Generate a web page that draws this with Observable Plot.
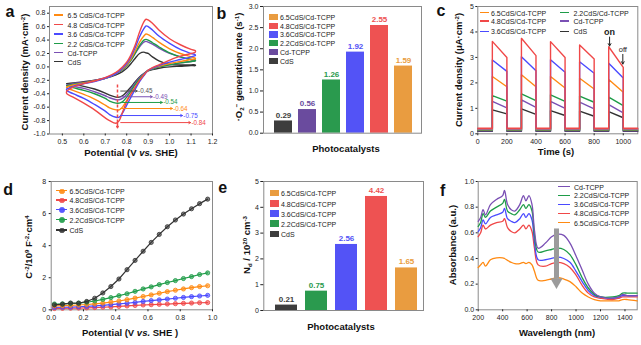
<!DOCTYPE html>
<html><head><meta charset="utf-8">
<script src="https://cdn.jsdelivr.net/npm/d3@7"></script>
<script src="https://cdn.jsdelivr.net/npm/@observablehq/plot@0.6"></script>
<style>
body{margin:0;background:#fff;}
#fig{position:relative;width:641px;height:345px;overflow:hidden;font-family:"Liberation Sans",Arial,sans-serif;background:#fff;color:#111}
.t{position:absolute;font-weight:bold;font-size:9.5px;white-space:nowrap;line-height:1;transform:translate(-50%,-50%)}
.t.y{transform:translate(-50%,-50%) rotate(-90deg)}
.let{position:absolute;font-weight:bold;font-size:16px;line-height:1}
.lg{position:absolute;font-size:7px;white-space:nowrap;line-height:1;transform:translateY(-50%);color:#222}
.sw{position:absolute}
sup{font-size:65%;line-height:0;position:relative;vertical-align:baseline;top:-0.5em}
sub{font-size:65%;line-height:0;position:relative;vertical-align:baseline;top:0.3em}
</style></head>
<body><div id="fig"></div>
<script>
// ---------- DATA ----------
// panel a: cyclic voltammetry
const aForwardV = [0.52,0.55,0.6,0.65,0.7,0.75,0.78,0.8,0.82,0.84,0.86,0.88,0.89,0.9,0.92,0.95,1.0,1.05,1.1,1.12];
const aReverseV = [1.12,1.1,1.05,1.0,0.95,0.92,0.9,0.88,0.86,0.84,0.82,0.8,0.78,0.765,0.75,0.72,0.7,0.65,0.6,0.55,0.52];
const aCdS_f   = [-0.25,-0.24,-0.22,-0.2,-0.17,-0.12,-0.07,-0.02,0.05,0.13,0.2,0.22,0.21,0.2,0.15,0.09,0.04,0.03,0.03,0.03];
const aCdS_r   = [0.02,0.02,0.01,0.0,-0.02,-0.04,-0.06,-0.1,-0.15,-0.22,-0.3,-0.37,-0.43,-0.45,-0.45,-0.42,-0.39,-0.33,-0.29,-0.26,-0.25];
const aTCPP_f  = [-0.27,-0.25,-0.23,-0.2,-0.16,-0.1,-0.04,0.02,0.1,0.2,0.3,0.37,0.38,0.37,0.34,0.28,0.2,0.15,0.11,0.1];
const aTCPP_r  = [0.09,0.08,0.06,0.03,0.0,-0.03,-0.05,-0.1,-0.16,-0.24,-0.33,-0.41,-0.47,-0.49,-0.49,-0.46,-0.43,-0.37,-0.32,-0.29,-0.27];
const a22_f    = [-0.28,-0.26,-0.24,-0.21,-0.17,-0.1,-0.04,0.02,0.1,0.21,0.32,0.4,0.41,0.4,0.36,0.3,0.21,0.15,0.11,0.1];
const a22_r    = [0.09,0.08,0.06,0.03,0.0,-0.03,-0.05,-0.11,-0.18,-0.26,-0.36,-0.45,-0.52,-0.54,-0.54,-0.51,-0.47,-0.4,-0.35,-0.31,-0.28];
const a65_f    = [-0.3,-0.27,-0.24,-0.21,-0.17,-0.1,-0.03,0.03,0.12,0.24,0.37,0.46,0.49,0.48,0.44,0.37,0.27,0.2,0.15,0.13];
const a65_r    = [0.12,0.11,0.08,0.05,0.01,-0.02,-0.05,-0.12,-0.2,-0.3,-0.4,-0.5,-0.6,-0.64,-0.64,-0.61,-0.57,-0.48,-0.41,-0.35,-0.31];
const a36_f    = [-0.33,-0.29,-0.25,-0.22,-0.17,-0.1,-0.02,0.05,0.15,0.29,0.45,0.57,0.61,0.6,0.55,0.46,0.35,0.26,0.2,0.18];
const a36_r    = [0.17,0.15,0.11,0.07,0.02,-0.02,-0.05,-0.13,-0.22,-0.33,-0.45,-0.57,-0.69,-0.75,-0.75,-0.71,-0.66,-0.56,-0.47,-0.4,-0.35];
const a48_f    = [-0.36,-0.3,-0.25,-0.21,-0.16,-0.08,0.0,0.07,0.18,0.33,0.52,0.67,0.71,0.7,0.65,0.55,0.42,0.33,0.26,0.24];
const a48_r    = [0.22,0.2,0.16,0.1,0.03,-0.01,-0.05,-0.12,-0.2,-0.3,-0.4,-0.52,-0.68,-0.8,-0.84,-0.8,-0.76,-0.64,-0.54,-0.45,-0.4];
const aPeakValues = [-0.45,-0.49,-0.54,-0.64,-0.75,-0.84];
const aXTicks = [0.5,0.6,0.7,0.8,0.9,1.0,1.1,1.2];
const aYTicks = [-1.0,-0.8,-0.6,-0.4,-0.2,0.0,0.2,0.4,0.6,0.8];
const aLegend = ["6.5 CdS/Cd-TCPP","4.8 CdS/Cd-TCPP","3.6 CdS/Cd-TCPP","2.2 CdS/Cd-TCPP","Cd-TCPP","CdS"];

// panel b: ·O2- generation rate
const bCats  = ["CdS","Cd-TCPP","2.2CdS/Cd-TCPP","3.6CdS/Cd-TCPP","4.8CdS/Cd-TCPP","6.5CdS/Cd-TCPP"];
const bRates = [0.29,0.56,1.26,1.92,2.55,1.59];
const bYTicks = [0,0.5,1.0,1.5,2.0,2.5,3.0];

// panel c: transient photocurrent
const cOn  = [100,300,500,700,900];
const cOff = [200,400,600,800,1000];
const c65Peak=[2.25,2.32,2.25,2.18,2.13], c65End=[1.85,1.85,1.8,1.76,1.63];
const c48Peak=[3.63,3.75,3.62,3.49,3.42], c48End=[3.0,3.07,3.0,2.94,2.61];
const c36Peak=[2.9,3.03,2.91,2.83,2.77],  c36End=[2.45,2.48,2.42,2.38,2.19];
const c22Peak=[1.5,1.57,1.53,1.48,1.44],  c22End=[1.28,1.3,1.27,1.24,1.11];
const cTPeak =[1.27,1.33,1.27,1.24,1.15], cTEnd =[1.02,1.04,1.0,0.98,0.82];
const cCPeak =[0.94,0.98,0.91,0.89,0.87], cCEnd =[0.78,0.76,0.72,0.69,0.63];
const cBase  = [0.17,0.22,0.2,0.15,0.12,0.1]; // 6.5, 4.8, 3.6, 2.2, Cd-TCPP, CdS
const cXTicks = [0,200,400,600,800,1000];
const cYTicks = [0,1,2,3,4,5];

// panel d: Mott-Schottky
const dV   = [0.02,0.07,0.12,0.17,0.22,0.27,0.32,0.37,0.42,0.47,0.52,0.57,0.62,0.67,0.72,0.77,0.82,0.87,0.92,0.97];
const dCdS = [0.31,0.35,0.42,0.41,0.52,0.72,1.05,1.45,1.92,2.5,3.08,3.65,4.2,4.7,5.18,5.6,5.97,6.3,6.62,6.9];
const d22  = [0.36,0.37,0.4,0.42,0.47,0.55,0.65,0.76,0.88,1.0,1.15,1.3,1.43,1.57,1.7,1.82,1.95,2.07,2.2,2.3];
const d65  = [0.25,0.26,0.28,0.3,0.33,0.37,0.42,0.48,0.55,0.63,0.73,0.83,0.93,1.03,1.13,1.22,1.3,1.38,1.45,1.5];
const d36  = [0.15,0.16,0.17,0.19,0.21,0.24,0.28,0.32,0.37,0.41,0.46,0.52,0.57,0.62,0.67,0.72,0.77,0.82,0.86,0.9];
const d48  = [0.08,0.09,0.1,0.11,0.12,0.14,0.16,0.18,0.21,0.24,0.27,0.3,0.32,0.34,0.36,0.38,0.4,0.42,0.44,0.45];
const dXTicks = [0,0.2,0.4,0.6,0.8,1.0];
const dYTicks = [0,2,4,6,8];
const dLegend = ["6.5CdS/Cd-TCPP","4.8CdS/Cd-TCPP","3.6CdS/Cd-TCPP","2.2CdS/Cd-TCPP","CdS"];

// panel e: donor density
const eCats = ["CdS","2.2CdS/Cd-TCPP","3.6CdS/Cd-TCPP","4.8CdS/Cd-TCPP","6.5CdS/Cd-TCPP"];
const eNd   = [0.21,0.75,2.56,4.42,1.65];
const eYTicks = [0,1,2,3,4,5];

// panel f: UV-vis-NIR absorbance
const fWl   = [200,220,240,260,300,350,400,415,440,470,500,540,570,590,615,640,660,690,750,800,850,900,950,1000,1050,1100,1150,1200,1300,1350,1380,1420,1500];
const fTCPP = [0.69,0.72,0.78,0.74,0.82,0.86,0.89,0.93,0.82,0.78,0.77,0.82,0.89,0.85,0.89,0.82,0.62,0.48,0.52,0.57,0.59,0.58,0.52,0.42,0.31,0.2,0.13,0.1,0.09,0.1,0.12,0.11,0.11];
const f22   = [0.65,0.68,0.75,0.72,0.77,0.8,0.83,0.86,0.77,0.75,0.74,0.78,0.82,0.79,0.82,0.77,0.58,0.45,0.46,0.47,0.48,0.47,0.43,0.35,0.25,0.17,0.12,0.1,0.1,0.11,0.13,0.13,0.13];
const f36   = [0.61,0.64,0.7,0.67,0.72,0.74,0.76,0.79,0.71,0.69,0.68,0.71,0.75,0.72,0.75,0.7,0.53,0.39,0.39,0.4,0.41,0.4,0.37,0.3,0.22,0.15,0.11,0.1,0.09,0.1,0.11,0.11,0.11];
const f48   = [0.57,0.6,0.66,0.63,0.66,0.68,0.69,0.71,0.64,0.61,0.6,0.63,0.66,0.63,0.66,0.61,0.48,0.35,0.34,0.36,0.37,0.36,0.33,0.27,0.19,0.13,0.1,0.09,0.08,0.09,0.1,0.1,0.1];
const f65   = [0.33,0.35,0.37,0.34,0.39,0.405,0.405,0.4,0.385,0.37,0.36,0.36,0.37,0.36,0.37,0.35,0.3,0.23,0.23,0.24,0.25,0.24,0.22,0.18,0.13,0.1,0.08,0.07,0.07,0.07,0.08,0.08,0.07];
const fXTicks = [200,400,600,800,1000,1200,1400];
const fYTicks = [0,0.2,0.4,0.6,0.8,1.0];
const fLegend = ["Cd-TCPP","2.2CdS/Cd-TCPP","3.6CdS/Cd-TCPP","4.8CdS/Cd-TCPP","6.5CdS/Cd-TCPP"];

// ---------- STYLE ----------
const L = {o:"#ff8a12", r:"#f04848", b:"#4a4aff", g:"#1e9c48", p:"#7a50b4", k:"#333333"};
const B = {o:"#e99c40", r:"#ee5252", b:"#5353f6", g:"#2a9a4e", p:"#6a4b9e", k:"#3d3d3d"};
const frameC = "#8a8a8a";
const font = '"Liberation Sans", Arial, sans-serif';
const baseStyle = {fontFamily: font, fontSize: "7px", color: "#222", background: "transparent", overflow: "visible"};
const f1 = d => d.toFixed(1);
const f0 = d => String(d);
const fig = document.getElementById("fig");

function place(svg, left, top) {
  svg.style.position = "absolute"; svg.style.left = left + "px"; svg.style.top = top + "px";
  svg.style.maxWidth = "none"; fig.appendChild(svg);
}
function html(cls, x, y, inner) {
  const d = document.createElement("div"); d.className = cls;
  d.style.left = x + "px"; d.style.top = y + "px"; d.innerHTML = inner; fig.appendChild(d); return d;
}
function legend(labels, colors, kind, sx0, sx1, tx, ys) {
  labels.forEach((lab, i) => {
    const y = ys[i];
    const sw = document.createElement("div"); sw.className = "sw";
    if (kind === "rect") {
      Object.assign(sw.style, {left: sx0+"px", top: (y-3.2)+"px", width: (sx1-sx0)+"px", height: "6.4px", background: colors[i]});
    } else {
      Object.assign(sw.style, {left: sx0+"px", top: (y-0.75)+"px", width: (sx1-sx0)+"px", height: "1.5px", background: colors[i]});
    }
    fig.appendChild(sw);
    if (kind === "dot") {
      const c = document.createElement("div"); c.className = "sw";
      const cx = (sx0+sx1)/2;
      Object.assign(c.style, {left: (cx-2.2)+"px", top: (y-2.2)+"px", width: "3.4px", height: "3.4px", borderRadius: "50%", background: colors[i], border: "0.6px solid " + colors[i], opacity: 0.9});
      fig.appendChild(c);
    }
    html("lg", tx, y, lab);
  });
}
function rowsOf(xs, ys) { return xs.map((x, i) => ({x, y: ys[i]})); }

// ---------- PANEL a ----------
const aSeries = [
  {f:aCdS_f, r:aCdS_r, c:L.k}, {f:aTCPP_f, r:aTCPP_r, c:L.p}, {f:a22_f, r:a22_r, c:L.g},
  {f:a65_f, r:a65_r, c:L.o}, {f:a36_f, r:a36_r, c:L.b}, {f:a48_f, r:a48_r, c:L.r}
];
const aArrowY   = [-0.36,-0.445,-0.53,-0.62,-0.725,-0.83];
const aArrowEnd = [0.849,0.919,0.966,1.013,1.06,1.098];
const aArrowC   = ["#555", L.p, L.g, L.o, L.b, L.r];
const aPlot = Plot.plot({
  width: 215, height: 170, marginLeft: 49, marginRight: 3, marginTop: 6, marginBottom: 36.5,
  x: {domain: [0.44, 1.2]}, y: {domain: [-1.0, 0.9]},
  style: baseStyle,
  marks: [
    Plot.frame({stroke: frameC}),
    Plot.axisX({ticks: aXTicks, tickFormat: f1, tickSize: 2, tickPadding: 3, label: null}),
    Plot.axisY({ticks: aYTicks, tickFormat: f1, tickSize: 2, tickPadding: 2, label: null}),
    ...aSeries.map(s => Plot.line(
      [...rowsOf(aForwardV, s.f), ...rowsOf(aReverseV, s.r), {x: aForwardV[0], y: s.f[0]}],
      {x: "x", y: "y", stroke: s.c, strokeWidth: 1.4, curve: "catmull-rom"})),
    Plot.ruleX([{x: 0.757, y1: -0.27, y2: -0.86}], {x: "x", y1: "y1", y2: "y2", stroke: L.r, strokeWidth: 1.5, strokeDasharray: "3,2"}),
    Plot.arrow([{x: 0.757, y1: -0.84, y2: -0.905}], {x1: "x", x2: "x", y1: "y1", y2: "y2", stroke: L.r, strokeWidth: 1.5, headLength: 5}),
    ...aPeakValues.map((v, i) => Plot.arrow([{x1: 0.772, x2: aArrowEnd[i], y: aArrowY[i]}],
      {x1: "x1", x2: "x2", y1: "y", y2: "y", stroke: aArrowC[i], strokeWidth: 1, headLength: 3})),
    ...aPeakValues.map((v, i) => Plot.text([{x: aArrowEnd[i] + 0.004, y: aArrowY[i], t: v.toFixed(2)}],
      {x: "x", y: "y", text: "t", fill: aArrowC[i], textAnchor: "start", fontSize: 6.3}))
  ]
});
place(aPlot, 0, 0);
html("let", 5.5, 3.5, "a");
html("t y", 24.5, 72, "Current density (mA·cm<sup>-2</sup>)");
html("t", 131, 153, "Potential (V <i>vs.</i> SHE)");
legend(aLegend, [L.o, L.r, L.b, L.g, L.p, L.k], "line", 54, 63, 67.5, [15, 24.5, 34, 43.5, 52.7, 61.7]);

// ---------- PANEL b ----------
const bColors = [B.k, B.p, B.g, B.b, B.r, B.o];
const bData = bCats.map((c, i) => ({cat: c, v: bRates[i]}));
const bPlot = Plot.plot({
  width: 215, height: 170, marginLeft: 48, marginRight: 9, marginTop: 6, marginBottom: 37.3,
  x: {type: "band", domain: bCats, range: [53.8, 202.4], paddingInner: 0.27, paddingOuter: 0.135, axis: null},
  y: {domain: [0, 3]},
  color: {domain: bCats, range: bColors},
  style: baseStyle,
  marks: [
    Plot.barY(bData, {x: "cat", y: "v", fill: "cat"}),
    Plot.frame({stroke: frameC}),
    Plot.axisY({ticks: bYTicks, tickFormat: f1, tickSize: 3, tickPadding: 2, label: null}),
    Plot.text(bData, {x: "cat", y: "v", text: d => d.v.toFixed(2), fill: "cat", dy: -6, fontWeight: "bold", fontSize: 8})
  ]
});
place(bPlot, 215, 0);
html("let", 216.5, 6, "b");
html("t y", 238.5, 67, "·O<sub>2</sub><sup>−</sup> generation rate (s<sup>-1</sup>)");
html("t", 346, 148.5, "Photocatalysts");
legend(["6.5CdS/Cd-TCPP","4.8CdS/Cd-TCPP","3.6CdS/Cd-TCPP","2.2CdS/Cd-TCPP","Cd-TCPP","CdS"],
  [B.o, B.r, B.b, B.g, B.p, B.k], "rect", 269, 277.5, 280, [16.7, 25.7, 34.4, 43.1, 52.3, 61.3]);

// ---------- PANEL c ----------
function chop(peaks, ends, base) {
  const pts = [{x: 0, y: base}];
  cOn.forEach((t, i) => {
    pts.push({x: t, y: base}, {x: t, y: peaks[i]}, {x: cOff[i], y: ends[i]}, {x: cOff[i], y: base});
  });
  pts.push({x: 1100, y: base});
  return pts;
}
const cSeries = [
  {p: cCPeak, e: cCEnd, b: cBase[5], c: L.k},
  {p: cTPeak, e: cTEnd, b: cBase[4], c: L.p},
  {p: c22Peak, e: c22End, b: cBase[3], c: L.g},
  {p: c65Peak, e: c65End, b: cBase[0], c: L.o},
  {p: c36Peak, e: c36End, b: cBase[2], c: L.b},
  {p: c48Peak, e: c48End, b: cBase[1], c: L.r}
];
const cPlot = Plot.plot({
  width: 211, height: 170, marginLeft: 47.3, marginRight: 3.7, marginTop: 6, marginBottom: 36.7,
  x: {domain: [0, 1100]}, y: {domain: [0, 5]},
  style: baseStyle,
  marks: [
    Plot.frame({stroke: frameC}),
    Plot.axisX({ticks: cXTicks, tickFormat: f0, tickSize: 2, tickPadding: 3, label: null}),
    Plot.axisY({ticks: cYTicks, tickFormat: f0, tickSize: 2, tickPadding: 2, label: null}),
    ...cSeries.map(s => Plot.line(chop(s.p, s.e, s.b), {x: "x", y: "y", stroke: s.c, strokeWidth: 1.4})),
    Plot.text([{x: 906, y: 4.0}], {x: "x", y: "y", text: () => "on", fontWeight: "bold", fontSize: 9}),
    Plot.arrow([{x: 906, y1: 3.8, y2: 3.45}], {x1: "x", x2: "x", y1: "y1", y2: "y2", stroke: "#222", strokeWidth: 1, headLength: 4}),
    Plot.text([{x: 997, y: 3.29}], {x: "x", y: "y", text: () => "off", fontSize: 7.5}),
    Plot.arrow([{x: 997, y1: 3.12, y2: 2.74}], {x1: "x", x2: "x", y1: "y1", y2: "y2", stroke: "#222", strokeWidth: 1, headLength: 4})
  ]
});
place(cPlot, 430, 0);
html("let", 436.5, 3.2, "c");
html("t y", 459, 70, "Current density (μA·cm<sup>-2</sup>)");
html("t", 556, 151.5, "Time (s)");
legend(["6.5CdS/Cd-TCPP","4.8CdS/Cd-TCPP","3.6CdS/Cd-TCPP"], [L.o, L.r, L.b], "line", 480, 488.5, 491, [12.7, 21.2, 31.3]);
legend(["2.2CdS/Cd-TCPP","Cd-TCPP","CdS"], [L.g, L.p, L.k], "line", 560, 568.5, 573.5, [12.7, 21.2, 31.3]);

// ---------- PANEL d ----------
const dSeries = [
  {v: d48, c: L.r}, {v: d36, c: L.b}, {v: d65, c: L.o}, {v: d22, c: L.g}, {v: dCdS, c: L.k}
];
const dPlot = Plot.plot({
  width: 215, height: 175, marginLeft: 50.7, marginRight: 3, marginTop: 11, marginBottom: 35.7,
  x: {domain: [0, 1]}, y: {domain: [0, 8]},
  style: baseStyle,
  marks: [
    Plot.frame({stroke: frameC}),
    Plot.axisX({ticks: dXTicks, tickFormat: f1, tickSize: 2, tickPadding: 3, label: null}),
    Plot.axisY({ticks: dYTicks, tickFormat: f0, tickSize: 2, tickPadding: 3, label: null}),
    ...dSeries.flatMap(s => [
      Plot.line(rowsOf(dV, s.v), {x: "x", y: "y", stroke: s.c, strokeWidth: 1.2}),
      Plot.dot(rowsOf(dV, s.v), {x: "x", y: "y", r: 2.1, fill: s.c, fillOpacity: 0.6, stroke: s.c, strokeWidth: 0.8})
    ])
  ]
});
place(dPlot, 0, 170);
html("let", 3.3, 181.5, "d");
html("t y", 29, 247, "C<sup>-2</sup>/10<sup>9</sup> F<sup>-2</sup>·cm<sup>4</sup>");
html("t", 130, 332.7, "Potential (V <i>vs.</i> SHE )");
legend(dLegend, [L.o, L.r, L.b, L.g, L.k], "dot", 56, 66.7, 69.5, [190.7, 200.2, 209.6, 219.6, 229.8]);

// ---------- PANEL e ----------
const eColors = [B.k, B.g, B.b, B.r, B.o];
const eData = eCats.map((c, i) => ({cat: c, v: eNd[i]}));
const ePlot = Plot.plot({
  width: 215, height: 175, marginLeft: 48.3, marginRight: 7, marginTop: 11, marginBottom: 35,
  x: {type: "band", domain: eCats, range: [55.15, 206.65], paddingInner: 0.28, paddingOuter: 0.14, axis: null},
  y: {domain: [0, 5]},
  color: {domain: eCats, range: eColors},
  style: baseStyle,
  marks: [
    Plot.barY(eData, {x: "cat", y: "v", fill: "cat"}),
    Plot.frame({stroke: frameC}),
    Plot.axisY({ticks: eYTicks, tickFormat: f0, tickSize: 3, tickPadding: 2, label: null}),
    Plot.text(eData, {x: "cat", y: "v", text: d => d.v.toFixed(2), fill: "cat", dy: -6, fontWeight: "bold", fontSize: 8})
  ]
});
place(ePlot, 215, 170);
html("let", 218.3, 180, "e");
html("t y", 247, 245, "N<sub>d</sub> / 10<sup>20</sup> cm<sup>-3</sup>");
html("t", 341, 326.7, "Photocatalysts");
legend(["6.5CdS/Cd-TCPP","4.8CdS/Cd-TCPP","3.6CdS/Cd-TCPP","2.2CdS/Cd-TCPP","CdS"],
  [B.o, B.r, B.b, B.g, B.k], "rect", 270, 278.5, 281, [193.3, 203.5, 213.5, 223.5, 234]);

// ---------- PANEL f ----------
const fSeries = [
  {v: f65, c: L.o}, {v: f48, c: L.r}, {v: f36, c: L.b}, {v: f22, c: L.g}, {v: fTCPP, c: L.p}
];
const fPlot = Plot.plot({
  width: 211, height: 175, marginLeft: 47.7, marginRight: 4.3, marginTop: 11, marginBottom: 35.7,
  x: {domain: [200, 1500]}, y: {domain: [0, 1]},
  style: baseStyle,
  marks: [
    Plot.frame({stroke: frameC}),
    Plot.axisX({ticks: fXTicks, tickFormat: f0, tickSize: 2, tickPadding: 3, label: null}),
    Plot.axisY({ticks: fYTicks, tickFormat: f1, tickSize: 2, tickPadding: 2, label: null}),
    ...fSeries.map(s => Plot.line(rowsOf(fWl, s.v), {x: "x", y: "y", stroke: s.c, strokeWidth: 1.3, curve: "catmull-rom"})),
    Plot.ruleX([{x: 840, y1: 0.63, y2: 0.24}], {x: "x", y1: "y1", y2: "y2", stroke: "#9b9b9b", strokeWidth: 5}),
    Plot.dot([{x: 840, y: 0.218}], {x: "x", y: "y", symbol: "triangle", rotate: 180, r: 4.6, fill: "#9b9b9b"})
  ]
});
place(fPlot, 430, 170);
html("let", 440, 182.5, "f");
html("t y", 453, 245, "Absorbance (a.u.)");
html("t", 557, 332.7, "Wavelength (nm)");
legend(fLegend, [L.p, L.g, L.b, L.r, L.o], "line", 558, 570, 574, [186.7, 195.3, 204.3, 213.3, 222.6]);
</script>
</body></html>
